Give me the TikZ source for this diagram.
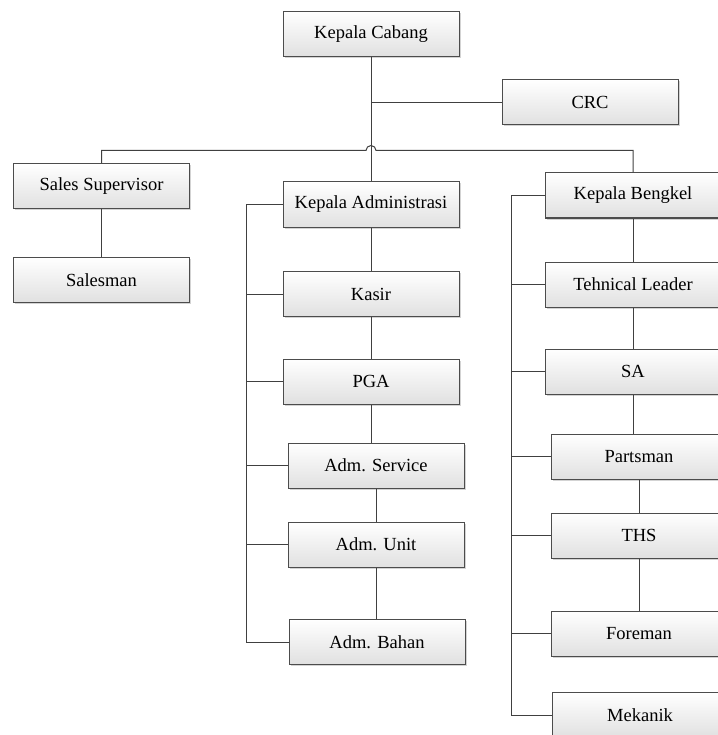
\documentclass[tikz,border=0pt]{standalone}
\usepackage{fontspec}
\setmainfont{Liberation Serif}
\usetikzlibrary{shadows}

\begin{document}
\begin{tikzpicture}[x=1pt, y=-1pt, line width=1pt]

    \tikzset{block/.style={%
      draw=black!70,%
      rectangle,%
      top color=white,%
      bottom color=black!12,%
      drop shadow={shadow xshift=1.5pt, shadow yshift=-1.5pt, opacity=0.35},%
      minimum width=176pt,%
      minimum height=45pt,%
      font=\rmfamily\fontsize{18.5}{21}\selectfont}%
    };

    \tikzset{link/.style={draw=black!75}};

    \useasboundingbox (0,0) rectangle (717,735);

    %%%%%%%%%%%%%%%
    %    top      %
    %%%%%%%%%%%%%%%
    \node [block] (kc) at (371, 34) {Kepala Cabang};
    \node [block] (crc) at (590, 102.5) {CRC};
    \coordinate (hop) at (371, 150.5);

    %%%%%%%%%%%%%%%
    %   sales     %
    %%%%%%%%%%%%%%%
    \node [block] (ss) at (101.5, 186) {Sales Supervisor};
    \node [block] (sm) at (101.5, 280) {Salesman};

    %%%%%%%%%%%%%%%
    %   admin     %
    %%%%%%%%%%%%%%%
    \node [block] (ka) at (371, 204.5) {Kepala Administrasi};
    \node [block] (ksr) at (371, 294) {Kasir};
    \node [block] (pga) at (371, 381.5) {PGA};
    \node [block] (asv) at (376, 465.5) {Adm. Service};
    \node [block] (aun) at (376, 544.5) {Adm. Unit};
    \node [block] (abh) at (377, 642) {Adm. Bahan};
    \coordinate (admbus) at (246, 0);

    %%%%%%%%%%%%%%%
    %   bengkel   %
    %%%%%%%%%%%%%%%
    \node [block] (kb) at (633, 195.5) {Kepala Bengkel};
    \node [block] (tl) at (633, 284.5) {Tehnical Leader};
    \node [block] (sa) at (633, 371.5) {SA};
    \node [block] (ps) at (639, 456.5) {Partsman};
    \node [block] (ths) at (639, 535.5) {THS};
    \node [block] (fm) at (639, 633.5) {Foreman};
    \node [block] (mk) at (640, 715) {Mekanik};
    \coordinate (bkbus) at (511, 0);

    % trunk and bus
    \draw [link] (kc.south) -- (ka.north);
    \draw [link] (crc.west) -- (crc.west -| kc.south);
    \draw [link] (ss.north) |- ([xshift=-5pt]hop)
      arc [start angle=180, end angle=0, radius=5pt] -| (kb.north);

    \draw [link] (ss.south) -- (sm.north);

    % admin
    \draw [link] (ka.south) -- (ksr.north);
    \draw [link] (ksr.south) -- (pga.north);
    \draw [link] (pga.south) -- (pga.south |- asv.north);
    \draw [link] (asv.south) -- (aun.north);
    \draw [link] (aun.south) -- (aun.south |- abh.north);
    \draw [link] (ka.west) -| (admbus |- abh.west) -- (abh.west);
    \foreach \n in {ksr, pga, asv, aun}
      \draw [link] (\n.west) -- (\n.west -| admbus);

    % bengkel
    \draw [link] (kb.south) -- (tl.north);
    \draw [link] (tl.south) -- (sa.north);
    \draw [link] (sa.south) -- (sa.south |- ps.north);
    \draw [link] (ps.south) -- (ths.north);
    \draw [link] (ths.south) -- (fm.north);
    \draw [link] (kb.west) -| (bkbus |- mk.west) -- (mk.west);
    \foreach \n in {tl, sa, ps, ths, fm}
      \draw [link] (\n.west) -- (\n.west -| bkbus);

  \end{tikzpicture}
\end{document}
